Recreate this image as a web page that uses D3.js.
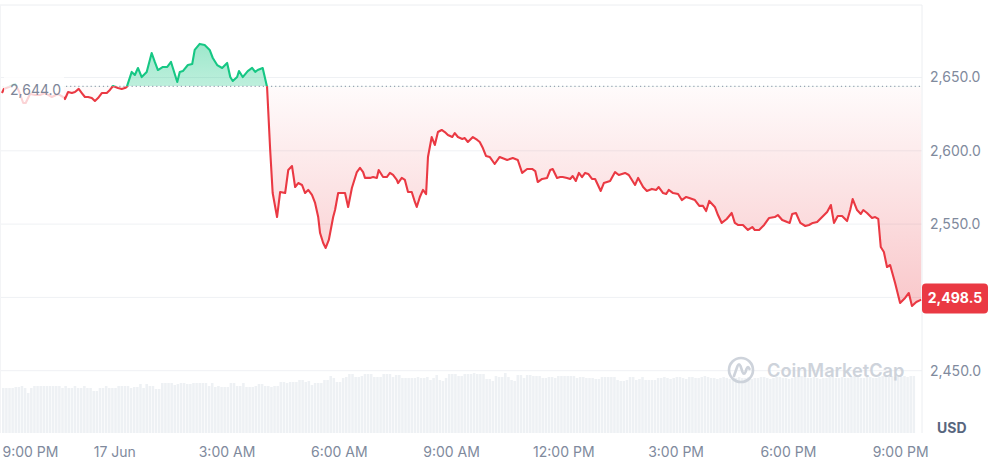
<!DOCTYPE html>
<html><head><meta charset="utf-8">
<script src="https://cdn.jsdelivr.net/npm/d3@7"></script>
<style>
html,body{margin:0;padding:0;background:#fff;}
svg{display:block;font-family:Inter,"Noto Sans",sans-serif;}
</style></head>
<body><svg id="chart" width="995" height="461"></svg>
<script>
// ---------- DATA ----------
// price series: [minutes since 16 Jun 21:00, price in USD]
const priceSeries = [
[0,2639.4],[3,2642.2],[11,2643.5],[21,2645.6],[27,2640.8],[34,2632.6],[38,2632.6],[45,2638.7],[53,2638.1],[61,2638.1],[69,2639.4],[80,2636.7],[90,2638.7],[98,2636.7],
[101,2635.3],[106,2640.1],[112,2639.4],[117,2640.1],[123,2642.2],[128,2639.4],[133,2636.7],[138,2636.7],[144,2636.0],[149,2634.0],[154,2636.0],[160,2639.4],[168,2639.4],[173,2641.5],[178,2644.2],[186,2642.8],[192,2642.2],[197,2642.8],[200,2643.5],
[208,2653.8],[213,2651.7],[218,2656.5],[224,2650.3],[232,2653.8],[240,2666.7],[245,2660.6],[250,2655.1],[258,2657.2],[265,2657.2],[271,2660.6],[274,2656.5],[281,2646.9],[285,2653.8],[290,2654.4],[298,2658.5],[305,2659.2],[309,2668.8],[317,2672.9],[325,2672.2],[333,2668.8],[338,2663.3],[345,2658.5],[353,2656.5],[361,2659.9],[366,2650.3],[370,2647.6],[377,2650.3],[380,2654.4],[386,2650.3],[394,2654.4],[401,2656.5],[406,2653.8],[410,2655.1],[418,2656.5],[425,2643.5],
[430,2600.5],[434,2571.2],[441,2554.8],[446,2571.9],[454,2571.2],[459,2586.9],[465,2589.6],[470,2575.3],[475,2578.0],[481,2576.7],[486,2571.2],[491,2573.3],[497,2569.9],[502,2564.4],[507,2554.8],[510,2543.9],[515,2537.1],[519,2533.7],[524,2539.2],[531,2554.8],[534,2559.6],[539,2571.2],[545,2571.2],[550,2571.2],[555,2561.7],[561,2574.6],[569,2585.5],[574,2588.3],[579,2585.5],[582,2581.5],[590,2581.5],[595,2582.1],[601,2581.5],[604,2586.9],[611,2582.1],[617,2582.1],[622,2584.9],[627,2583.5],[633,2580.1],[635,2578.0],[641,2581.5],[646,2580.1],[651,2571.9],[657,2571.9],[662,2565.1],[665,2561.7],[670,2568.5],[675,2573.3],[680,2570.5],
[683,2595.8],[689,2609.4],[694,2604.0],[699,2612.8],[705,2614.2],[710,2612.8],[715,2610.8],[722,2609.4],[726,2612.1],[731,2609.4],[738,2608.1],[742,2608.7],[747,2606.0],[755,2609.4],[762,2607.4],[766,2606.0],[771,2601.9],[776,2596.5],[782,2595.8],[790,2591.0],[798,2595.8],[810,2593.7],[819,2595.1],[827,2593.7],[834,2584.9],[842,2587.6],[850,2587.6],[855,2586.2],[859,2578.7],[866,2580.8],[874,2581.5],[879,2586.9],[883,2587.6],[890,2581.5],[895,2582.1],[899,2582.1],[906,2581.5],[911,2580.8],[915,2582.8],[920,2579.4],[925,2584.9],[930,2582.1],[935,2584.9],[940,2584.2],[946,2580.8],[951,2580.8],[960,2572.6],[965,2578.0],[975,2579.4],[983,2585.5],[989,2583.5],[999,2584.9],[1005,2583.5],[1015,2576.7],[1020,2581.5],[1028,2575.3],[1034,2572.6],[1042,2574.0],[1049,2573.3],[1053,2575.3],[1060,2571.2],[1065,2570.5],[1069,2573.3],[1076,2571.2],[1084,2570.5],[1090,2566.4],[1097,2568.5],[1102,2567.8],[1111,2566.4],[1118,2562.4],[1124,2562.4],[1129,2558.9],[1134,2565.8],[1143,2561.7],[1148,2556.2],[1154,2550.8],[1162,2553.5],[1170,2557.6],[1175,2550.8],[1180,2549.4],[1188,2549.4],[1196,2546.0],[1203,2548.0],[1207,2546.0],[1214,2546.0],[1222,2549.4],[1230,2554.2],[1239,2554.8],[1244,2556.2],[1251,2552.8],[1259,2551.4],[1263,2550.8],[1267,2556.9],[1273,2557.6],[1280,2550.8],[1288,2548.7],[1294,2549.4],[1300,2550.8],[1307,2551.4],[1315,2554.8],[1323,2558.3],[1329,2563.0],[1334,2550.8],[1340,2555.5],[1347,2555.5],[1355,2552.1],[1360,2559.6],[1364,2567.1],[1371,2559.6],[1377,2556.9],[1381,2559.6],[1387,2557.6],[1395,2554.2],[1400,2554.8],[1405,2553.5],[1409,2534.4],[1414,2531.0],[1419,2520.7],[1424,2522.1],[1432,2509.8],[1440,2496.2],[1448,2499.6],[1454,2503.0],[1459,2494.1],[1466,2496.9],[1474,2498.5]
];
// 5-minute volume (millions USD), starting 16 Jun 21:00
const volumes = [
45,45,45,45,46,46,47,45,40,45, 47,47,47,47,47,47,47,47,47,45,
47,45,45,47,45,45,47,45,45,42, 42,45,45,47,45,45,45,47,47,47,
47,45,46,46,49,45,49,47,47,44, 44,50,50,50,50,48,49,50,50,49,
49,50,50,50,50,50,47,50,46,47, 46,46,46,50,50,47,47,50,46,46,
46,47,49,49,47,47,46,47,47,51, 51,50,51,51,51,53,53,51,52,48,
50,50,50,53,53,57,
55,51,51,55,56,59,59,56,56,57, 59,59,59,56,56,56,59,59,59,56,
58,58,55,55,55,55,55,56,55,55, 56,53,55,58,53,52,55,59,59,59,
57,57,59,59,59,60,59,59,59,54, 54,52,57,56,56,60,56,53,52,58,
58,55,58,58,57,57,57,55,55,56, 56,55,57,57,57,57,57,57,55,56,
56,55,55,55,54,54,56,56,56,56, 56,53,52,52,53,56,56,53,54,56,
53,53,53,53,
55,55,56,55,54,55,56,56,55,54, 56,56,55,55,56,57,56,55,55,54,
55,56,55,54,54,55,56,55,55,56, 54,55,55,56,56,55,54,55,56,56,
55,55,54,55,56,56,57,56,55,55, 56,55,54,55,55,56,56,55,55,56,
55,55,56,57,56,55,55,56,56,55, 55,56,57,58,58,57,56,57,56,57,
56,57,57
];
const volumeStepMinutes = 5;
const baselinePrice = 2644.0;
const yTickValues = [2450, 2500, 2550, 2600, 2650];
const xTickHours = [0, 3, 6, 9, 12, 15, 18, 21, 24];
const currencyLabel = "USD";
const watermarkText = "CoinMarketCap";

// ---------- LAYOUT ----------
const startTime = new Date(2025, 5, 16, 21, 0);
const toDate = m => new Date(startTime.getTime() + m * 60000);
const plotRight = 922, plotTop = 5, plotBottom = 433;
const RED = "#ea3943", GREEN = "#16c784";

const svg = d3.select("#chart");
const defs = svg.append("defs");

const lastMin = priceSeries[priceSeries.length - 1][0];
const lastP = priceSeries[priceSeries.length - 1][1];
const x = d3.scaleTime().domain([toDate(0), toDate(lastMin)]).range([2, 921.3]);
const y = d3.scaleLinear().domain([2450, 2650]).range([370.7, 77.5]);
const vy = d3.scaleLinear().domain([0, 60]).range([plotBottom, plotBottom - 60]);
const baseY = y(baselinePrice);
const tagY = y(lastP) - 1;

// gradients
const gRed = defs.append("linearGradient").attr("id", "gRed")
  .attr("gradientUnits", "userSpaceOnUse").attr("x1", 0).attr("x2", 0)
  .attr("y1", baseY).attr("y2", y(2494));
gRed.append("stop").attr("offset", 0).attr("stop-color", RED).attr("stop-opacity", 0.02);
gRed.append("stop").attr("offset", 1).attr("stop-color", RED).attr("stop-opacity", 0.28);
const gGreen = defs.append("linearGradient").attr("id", "gGreen")
  .attr("gradientUnits", "userSpaceOnUse").attr("x1", 0).attr("x2", 0)
  .attr("y1", y(2673)).attr("y2", baseY);
gGreen.append("stop").attr("offset", 0).attr("stop-color", GREEN).attr("stop-opacity", 0.42);
gGreen.append("stop").attr("offset", 1).attr("stop-color", GREEN).attr("stop-opacity", 0.28);

defs.append("clipPath").attr("id", "cAbove").append("rect")
  .attr("x", 0).attr("y", 0).attr("width", plotRight).attr("height", baseY);
defs.append("clipPath").attr("id", "cBelow").append("rect")
  .attr("x", 0).attr("y", baseY).attr("width", plotRight).attr("height", 461 - baseY);

// gridlines
svg.append("g").selectAll("line").data(yTickValues).join("line")
  .attr("x1", 1).attr("x2", plotRight)
  .attr("y1", d => y(d)).attr("y2", d => y(d))
  .attr("stroke", "#eff1f4").attr("stroke-width", 1);

// volume bars
const step = x(toDate(volumeStepMinutes)) - x(toDate(0));
svg.append("g").selectAll("rect").data(volumes).join("rect")
  .attr("x", (d, i) => x(toDate(i * volumeStepMinutes)))
  .attr("y", d => vy(d))
  .attr("width", step - 0.6)
  .attr("height", d => plotBottom - vy(d))
  .attr("fill", "#eef1f4");

// watermark
const wm = svg.append("g").attr("opacity", 0.9);
wm.append("circle").attr("cx", 741).attr("cy", 370).attr("r", 12)
  .attr("fill", "none").attr("stroke", "#c9cfd8").attr("stroke-width", 2.6);
wm.append("path")
  .attr("d", "M734,376 L737.5,366 Q739,362.5 740.5,366 L742.5,372 Q744,375.5 745.5,372 L746.5,369 Q748,365 749.5,369")
  .attr("fill", "none").attr("stroke", "#c9cfd8").attr("stroke-width", 2.6)
  .attr("stroke-linecap", "round").attr("stroke-linejoin", "round");
wm.append("text").attr("x", 767).attr("y", 377).text(watermarkText)
  .attr("font-size", 18.2).attr("font-weight", 600).attr("fill", "#c9cfd8");

// areas
const pts = priceSeries.map(d => ({t: toDate(d[0]), p: d[1]}));
const area = d3.area().x(d => x(d.t)).y0(baseY).y1(d => y(d.p));
const line = d3.line().x(d => x(d.t)).y(d => y(d.p));
svg.append("path").datum(pts).attr("d", area).attr("fill", "url(#gGreen)").attr("clip-path", "url(#cAbove)");
svg.append("path").datum(pts).attr("d", area).attr("fill", "url(#gRed)").attr("clip-path", "url(#cBelow)");

// baseline dotted
svg.append("line").attr("x1", 66).attr("x2", plotRight - 1).attr("y1", baseY).attr("y2", baseY)
  .attr("stroke", "#9aa3b3").attr("stroke-width", 1.2).attr("stroke-dasharray", "1.2,2.9");

// lines
svg.append("path").datum(pts).attr("d", line).attr("fill", "none").attr("stroke", GREEN)
  .attr("stroke-width", 2.1).attr("stroke-linejoin", "round").attr("clip-path", "url(#cAbove)");
svg.append("path").datum(pts).attr("d", line).attr("fill", "none").attr("stroke", RED)
  .attr("stroke-width", 2.1).attr("stroke-linejoin", "round").attr("clip-path", "url(#cBelow)");

// baseline label
svg.append("rect").attr("x", 4).attr("y", baseY - 16).attr("width", 60).attr("height", 34)
  .attr("fill", "#fff").attr("opacity", 0.78);
svg.append("text").attr("x", 10).attr("y", baseY + 3.5).attr("dy", "0.35em")
  .attr("font-size", 14).attr("fill", "#7c8598").text(d3.format(",.1f")(baselinePrice));

// frame
svg.append("line").attr("x1", 0).attr("x2", plotRight).attr("y1", plotTop).attr("y2", plotTop)
  .attr("stroke", "#eceef1");
svg.append("line").attr("x1", plotRight).attr("x2", plotRight).attr("y1", plotTop).attr("y2", plotBottom)
  .attr("stroke", "#eceef1");
svg.append("line").attr("x1", 0.5).attr("x2", 0.5).attr("y1", plotTop).attr("y2", plotBottom)
  .attr("stroke", "#f3f4f6");

// y axis (right) - the label hidden behind the price tag is not drawn
const labelledTicks = yTickValues.filter(v => Math.abs(y(v) - tagY) > 16);
const yAxis = svg.append("g").attr("transform", `translate(${plotRight},0)`)
  .call(d3.axisRight(y).tickValues(labelledTicks).tickFormat(d3.format(",.1f")).tickSize(0).tickPadding(8));
yAxis.select(".domain").remove();
yAxis.selectAll("text").attr("font-size", 14).attr("fill", "#808a9d").attr("font-family", "Inter,'Noto Sans',sans-serif");

// x axis
const fmtDay = d3.timeFormat("%-d %b"), fmtTime = d3.timeFormat("%-I:%M %p");
const xAxis = svg.append("g").attr("transform", `translate(0,${plotBottom})`)
  .call(d3.axisBottom(x).tickValues(xTickHours.map(h => toDate(h * 60)))
    .tickFormat(d => (d.getHours() === 0 ? fmtDay(d) : fmtTime(d))).tickSize(0).tickPadding(14));
xAxis.select(".domain").remove();
xAxis.selectAll("text").attr("font-size", 14).attr("fill", "#808a9d").attr("font-family", "Inter,'Noto Sans',sans-serif");
xAxis.selectAll(".tick").filter((d, i) => i === 0).select("text").attr("text-anchor", "start");

// currency label
svg.append("text").attr("x", 937).attr("y", 433).text(currencyLabel)
  .attr("font-size", 14).attr("font-weight", 700).attr("fill", "#58667e");

// current price tag
svg.append("rect").attr("x", plotRight).attr("y", tagY - 15).attr("width", 66).attr("height", 30)
  .attr("rx", 4).attr("fill", RED);
svg.append("text").attr("x", plotRight + 33).attr("y", tagY).attr("dy", "0.35em")
  .attr("text-anchor", "middle").attr("font-size", 14).attr("font-weight", 700)
  .attr("fill", "#fff").text(d3.format(",.1f")(lastP));
</script>
</body></html>
